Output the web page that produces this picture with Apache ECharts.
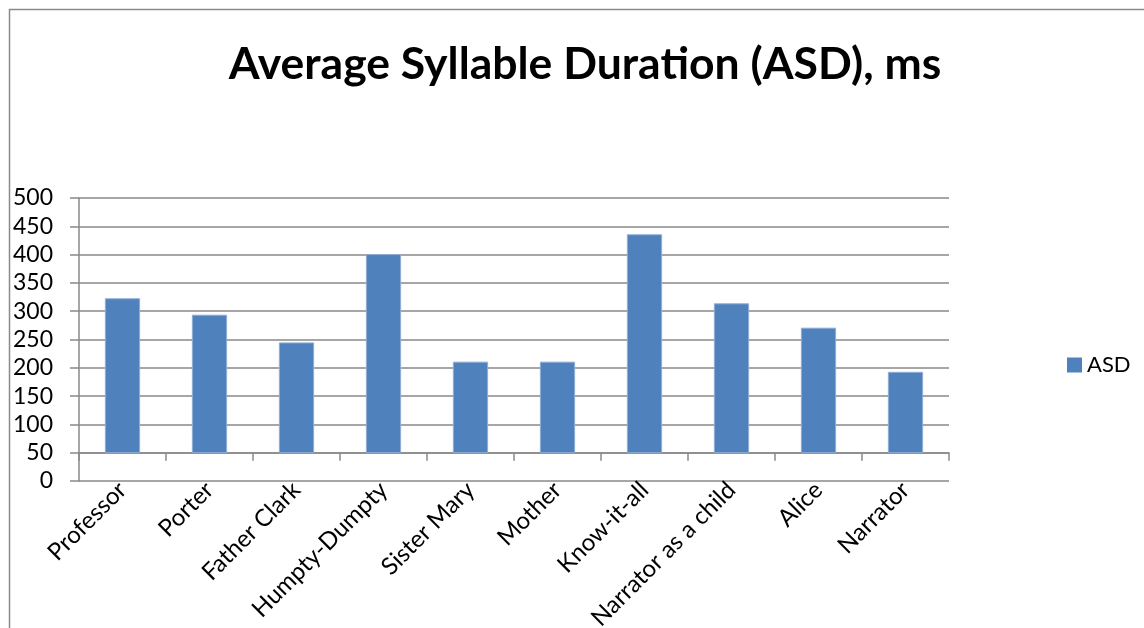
<!DOCTYPE html>
<html>
<head>
<meta charset="utf-8">
<script src="https://cdn.jsdelivr.net/npm/echarts@6/dist/echarts.min.js"></script>
<style>
  html, body { margin: 0; padding: 0; background: #fff; }
  #chart { width: 1144px; height: 628px; }
</style>
</head>
<body>
<div id="chart"></div>
<script>
// Speakers and their average syllable duration in milliseconds
const categories = ['Professor', 'Porter', 'Father Clark', 'Humpty-Dumpty', 'Sister Mary',
  'Mother', 'Know-it-all', 'Narrator as a child', 'Alice', 'Narrator'];
const asdValues = [322, 293, 244, 400, 210, 210, 435, 313, 270, 192];
const seriesName = 'ASD';
const yTicks = [0, 50, 100, 150, 200, 250, 300, 350, 400, 450, 500];
const barFloor = 50; // columns rise from the category axis line

const chart = echarts.init(document.getElementById('chart'));
const FONT = 'Lato, "Open Sans", sans-serif';
const GRID_COLOR = '#898989';
const BAR_COLOR = '#4F81BD';

chart.setOption({
  animation: false,
  backgroundColor: '#ffffff',
  title: {
    text: 'Average Syllable Duration (ASD), ms',
    left: 580,
    textAlign: 'center',
    top: 37,
    textStyle: { fontFamily: FONT, fontWeight: 'bold', fontSize: 44.5, color: '#000' }
  },
  legend: {
    data: [{ name: seriesName, icon: 'rect' }],
    left: 1062,
    top: 349,
    itemWidth: 15,
    itemHeight: 15,
    itemGap: 8,
    textStyle: { fontFamily: FONT, fontSize: 22, color: '#000' }
  },
  graphic: [{
    type: 'rect',
    shape: { x: 9.5, y: 9.5, width: 1300, height: 800 },
    style: { fill: 'none', stroke: '#8a8a8a', lineWidth: 1.5 },
    silent: true
  }],
  grid: { left: 79, right: 195, top: 198, bottom: 147, containLabel: false, outerBoundsMode: 'none' },
  xAxis: [{
    type: 'category',
    data: categories,
    position: 'bottom',
    axisLine: { show: false },
    axisTick: { show: false },
    axisLabel: {
      rotate: 45,
      interval: 0,
      margin: 5,
      fontFamily: FONT,
      fontSize: 24,
      color: '#000'
    }
  }, {
    // category tick marks hanging from the 50 line
    type: 'category',
    data: categories,
    position: 'bottom',
    offset: -28.3,
    axisLine: { show: true, lineStyle: { color: GRID_COLOR, width: 1.5 } },
    axisTick: { show: true, interval: 0, length: 8, alignWithLabel: false, lineStyle: { color: GRID_COLOR, width: 1.5 } },
    axisLabel: { show: false, interval: 0 }
  }],
  yAxis: {
    type: 'value',
    min: yTicks[0],
    max: yTicks[yTicks.length - 1],
    interval: yTicks[1] - yTicks[0],
    axisLine: { show: true, lineStyle: { color: GRID_COLOR, width: 1.5 } },
    axisTick: { show: true, length: 9, lineStyle: { color: GRID_COLOR, width: 1.5 } },
    axisLabel: { fontFamily: FONT, fontSize: 23, color: '#000', margin: 26 },
    splitLine: { show: true, lineStyle: { color: GRID_COLOR, width: 1.5 } }
  },
  series: [{
    name: seriesName,
    type: 'custom',
    xAxisIndex: 0,
    itemStyle: { color: BAR_COLOR },
    encode: { x: 0, y: 1 },
    data: asdValues.map((v, i) => [i, v]),
    renderItem: function (params, api) {
      const idx = api.value(0);
      const top = api.coord([idx, api.value(1)]);
      const base = api.coord([idx, barFloor]);
      const w = api.size([1, 0])[0] * 0.394;
      return {
        type: 'rect',
        shape: { x: top[0] - w / 2, y: top[1], width: w, height: base[1] - top[1] },
        style: { fill: BAR_COLOR, stroke: '#8FAED6', lineWidth: 1 }
      };
    }
  }]
});
</script>
</body>
</html>
